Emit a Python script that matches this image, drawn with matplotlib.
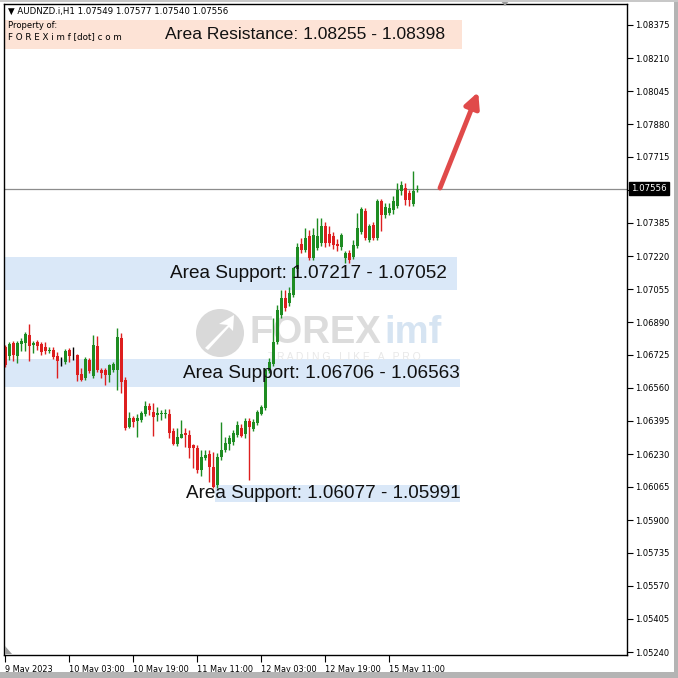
import matplotlib
matplotlib.use('Agg')
import matplotlib.pyplot as plt
from matplotlib.patches import Rectangle, Polygon, Circle
import numpy as np

# ---------------- data (AUDNZD.i, H1) ----------------
opens = [1.06765, 1.06720, 1.06785, 1.06720, 1.06780, 1.06785, 1.06825, 1.06775, 1.06790, 1.06780,
         1.06765, 1.06745, 1.06750, 1.06720, 1.06695, 1.06690, 1.06750, 1.06730, 1.06725, 1.06630,
         1.06610, 1.06700, 1.06620, 1.06770, 1.06650, 1.06650, 1.06625, 1.06650, 1.06650, 1.06810,
         1.06600, 1.06365, 1.06410, 1.06395, 1.06400, 1.06430, 1.06470, 1.06440, 1.06425, 1.06430,
         1.06430, 1.06430, 1.06345, 1.06280, 1.06310, 1.06335, 1.06325, 1.06275, 1.06260, 1.06150,
         1.06210, 1.06230, 1.06165, 1.06075, 1.06215, 1.06250, 1.06280, 1.06290, 1.06325, 1.06360,
         1.06330, 1.06395, 1.06355, 1.06385, 1.06430, 1.06460, 1.06645, 1.06680, 1.06790, 1.06925,
         1.07010, 1.06985, 1.07025, 1.07155, 1.07280, 1.07250, 1.07320, 1.07210, 1.07260, 1.07285,
         1.07370, 1.07330, 1.07320, 1.07280, 1.07265, 1.07210, 1.07235, 1.07215, 1.07270, 1.07340,
         1.07445, 1.07300, 1.07375, 1.07310, 1.07495, 1.07425, 1.07435, 1.07450, 1.07470, 1.07545,
         1.07560, 1.07535, 1.07480, 1.07549]
highs = [1.06775, 1.06790, 1.06795, 1.06795, 1.06810, 1.06840, 1.06880, 1.06795, 1.06800, 1.06790,
         1.06790, 1.06765, 1.06765, 1.06740, 1.06715, 1.06755, 1.06760, 1.06765, 1.06730, 1.06660,
         1.06715, 1.06710, 1.06825, 1.06820, 1.06660, 1.06660, 1.06680, 1.06690, 1.06860, 1.06835,
         1.06615, 1.06440, 1.06420, 1.06430, 1.06445, 1.06495, 1.06485, 1.06485, 1.06465, 1.06450,
         1.06455, 1.06455, 1.06360, 1.06360, 1.06400, 1.06360, 1.06350, 1.06280, 1.06275, 1.06250,
         1.06250, 1.06250, 1.06240, 1.06235, 1.06390, 1.06315, 1.06325, 1.06350, 1.06395, 1.06380,
         1.06410, 1.06410, 1.06405, 1.06450, 1.06475, 1.06660, 1.06710, 1.06910, 1.06975, 1.07050,
         1.07050, 1.07065, 1.07165, 1.07285, 1.07310, 1.07360, 1.07350, 1.07360, 1.07410, 1.07410,
         1.07390, 1.07370, 1.07340, 1.07305, 1.07335, 1.07245, 1.07250, 1.07300, 1.07435, 1.07465,
         1.07460, 1.07380, 1.07390, 1.07505, 1.07505, 1.07485, 1.07485, 1.07520, 1.07585, 1.07595,
         1.07585, 1.07550, 1.07645, 1.07577]
lows = [1.06665, 1.06700, 1.06695, 1.06685, 1.06745, 1.06745, 1.06695, 1.06735, 1.06750, 1.06725,
        1.06730, 1.06735, 1.06705, 1.06610, 1.06670, 1.06680, 1.06690, 1.06700, 1.06595, 1.06595,
        1.06600, 1.06635, 1.06610, 1.06640, 1.06610, 1.06575, 1.06590, 1.06640, 1.06550, 1.06535,
        1.06350, 1.06360, 1.06365, 1.06315, 1.06390, 1.06420, 1.06425, 1.06320, 1.06395, 1.06400,
        1.06410, 1.06310, 1.06275, 1.06270, 1.06310, 1.06265, 1.06210, 1.06160, 1.06135, 1.06120,
        1.06200, 1.06090, 1.06060, 1.06060, 1.06200, 1.06240, 1.06250, 1.06275, 1.06315, 1.06315,
        1.06310, 1.06100, 1.06345, 1.06375, 1.06425, 1.06450, 1.06635, 1.06670, 1.06780, 1.06910,
        1.06945, 1.06970, 1.07015, 1.07140, 1.07235, 1.07240, 1.07200, 1.07200, 1.07250, 1.07270,
        1.07265, 1.07270, 1.07255, 1.07245, 1.07250, 1.07185, 1.07185, 1.07205, 1.07260, 1.07330,
        1.07300, 1.07290, 1.07300, 1.07300, 1.07345, 1.07410, 1.07425, 1.07430, 1.07460, 1.07525,
        1.07475, 1.07470, 1.07470, 1.07540]
closes = [1.06675, 1.06780, 1.06725, 1.06785, 1.06795, 1.06830, 1.06770, 1.06785, 1.06770, 1.06740,
          1.06745, 1.06750, 1.06715, 1.06695, 1.06695, 1.06745, 1.06720, 1.06730, 1.06625, 1.06600,
          1.06705, 1.06645, 1.06775, 1.06650, 1.06635, 1.06625, 1.06675, 1.06680, 1.06815, 1.06590,
          1.06360, 1.06410, 1.06390, 1.06410, 1.06435, 1.06470, 1.06450, 1.06415, 1.06435, 1.06435,
          1.06435, 1.06335, 1.06280, 1.06315, 1.06330, 1.06325, 1.06260, 1.06260, 1.06150, 1.06215,
          1.06225, 1.06165, 1.06065, 1.06215, 1.06250, 1.06285, 1.06310, 1.06335, 1.06375, 1.06320,
          1.06395, 1.06365, 1.06390, 1.06440, 1.06465, 1.06650, 1.06690, 1.06790, 1.06950, 1.07010,
          1.06960, 1.07035, 1.07160, 1.07265, 1.07250, 1.07310, 1.07210, 1.07325, 1.07320, 1.07370,
          1.07285, 1.07285, 1.07275, 1.07270, 1.07325, 1.07235, 1.07200, 1.07275, 1.07360, 1.07455,
          1.07310, 1.07370, 1.07310, 1.07495, 1.07425, 1.07465, 1.07460, 1.07495, 1.07550, 1.07575,
          1.07500, 1.07500, 1.07545, 1.07556]

x_tick_pos = [0, 16, 32, 48, 64, 80, 96]
x_tick_labels = ['9 May 2023', '10 May 03:00', '10 May 19:00', '11 May 11:00',
                 '12 May 03:00', '12 May 19:00', '15 May 11:00']
y_ticks = [1.08375, 1.08210, 1.08045, 1.07880, 1.07715, 1.07550, 1.07385, 1.07220, 1.07055,
           1.06890, 1.06725, 1.06560, 1.06395, 1.06230, 1.06065, 1.05900, 1.05735, 1.05570,
           1.05405, 1.05240]
y_tick_labels = ['1.08375', '1.08210', '1.08045', '1.07880', '1.07715', '', '1.07385', '1.07220',
                 '1.07055', '1.06890', '1.06725', '1.06560', '1.06395', '1.06230', '1.06065',
                 '1.05900', '1.05735', '1.05570', '1.05405', '1.05240']
current_price = 1.07556
header = '\u25BC AUDNZD.i,H1 1.07549 1.07577 1.07540 1.07556'

zone_tops = [1.08398, 1.07217, 1.06706, 1.06077]
zone_bottoms = [1.08255, 1.07052, 1.06563, 1.05991]
zone_labels = ['Area Resistance: 1.08255 - 1.08398', 'Area Support: 1.07217 - 1.07052',
               'Area Support: 1.06706 - 1.06563', 'Area Support: 1.06077 - 1.05991']
zone_start = [-0.25, -0.25, -0.25, 52.5]
zone_end = [114.25, 113.0, 113.75, 113.75]
zone_text_x = [40.0, 41.25, 44.5, 45.25]
zone_text_size = [12.6, 13.7, 13.7, 13.6]
zone_colors = ['#fde3d6', '#dae8f8', '#dae8f8', '#dae8f8']

arrow_start = (108.75, 1.0756)
arrow_end = (118.3, 1.0804)

# ---------------- figure ----------------
W = 678
fig = plt.figure(figsize=(6.78, 6.78), dpi=100)
fig.patch.set_facecolor('white')

def fx(px):
    return px / W

def fy(py):
    return 1 - py / W

ax = fig.add_axes([fx(4), fy(655), fx(627) - fx(4), fy(4) - fy(655)])
ax.set_facecolor('white')
ax.set_xlim(-0.25, 155.5)
ax.set_ylim(1.05225, 1.0848)

# zones
for top, bot, x0, x1, c in zip(zone_tops, zone_bottoms, zone_start, zone_end, zone_colors):
    ax.add_patch(Rectangle((x0, bot), x1 - x0, top - bot, facecolor=c, edgecolor='none', zorder=0.5))

# watermark
wm_cx, wm_cy = fx(220), fy(333)
circ = Circle((wm_cx, wm_cy), 24 / W, transform=fig.transFigure, facecolor='#d9d9d9',
              edgecolor='none', zorder=0.8)
ax.add_artist(circ)
circ.set_clip_on(False)
arrow_wm = Polygon([(fx(205), fy(348)), (fx(228), fy(325)), (fx(219), fy(324)), (fx(234), fy(315)),
                    (fx(233), fy(331)), (fx(229), fy(327)), (fx(208), fy(350))],
                   closed=True, transform=fig.transFigure, facecolor='white', edgecolor='none',
                   zorder=0.85)
ax.add_artist(arrow_wm)
ax.text(fx(249), fy(333), 'FOREX', transform=fig.transFigure, fontsize=27.5, fontweight='bold',
        family='Liberation Sans', color='#dcdcdc', ha='left', va='center', zorder=0.8)
ax.text(fx(384), fy(333), 'imf', transform=fig.transFigure, fontsize=27.5, fontweight='bold',
        family='Liberation Sans', color='#d6e4f2', ha='left', va='center', zorder=0.8)
ax.text(fx(344), fy(357), 'T R A D I N G   L I K E   A   P R O', transform=fig.transFigure,
        fontsize=7.5, family='Liberation Sans', color='#e8e8e8', ha='center', va='center',
        zorder=0.8)

# current price line
ax.axhline(current_price, color='#8c8c8c', lw=0.9, zorder=1)

# candles
idx = np.arange(len(opens))
o = np.array(opens)
c = np.array(closes)
cols = np.where(c > o, '#1e8c22', np.where(c < o, '#dd1f1f', '#000000'))
ax.vlines(idx, lows, highs, colors=cols, lw=1.0, zorder=2)
body_h = np.maximum(np.abs(c - o), 0.000025)
ax.bar(idx, body_h, bottom=np.minimum(o, c), width=0.75, color=cols, linewidth=0, zorder=2.1)

# zone labels
for top, bot, lab, tx, fs in zip(zone_tops, zone_bottoms, zone_labels, zone_text_x, zone_text_size):
    ax.text(tx, (top + bot) / 2, lab, ha='left', va='center', fontsize=fs,
            family='Liberation Sans', color='#111111', zorder=3)

# red arrow
ax.annotate('', xy=arrow_end, xytext=arrow_start,
            arrowprops=dict(arrowstyle='-|>,head_length=0.9,head_width=0.45', color='#e04a4a',
                            lw=3.5, shrinkA=0, shrinkB=0), zorder=4)

# axes styling
for s in ax.spines.values():
    s.set_color('#000000')
    s.set_linewidth(1.0)
ax.yaxis.tick_right()
ax.set_yticks(y_ticks)
ax.set_yticklabels(y_tick_labels)
ax.tick_params(axis='y', direction='out', length=4, width=0.8, pad=2, labelsize=6.0,
               colors='#000000', left=False)
for t in ax.get_yticklabels():
    t.set_family('DejaVu Sans')
ax.set_xticks(x_tick_pos)
ax.set_xticklabels(x_tick_labels, ha='left')
ax.tick_params(axis='x', direction='out', length=5, width=0.8, pad=2, labelsize=5.9,
               colors='#000000')
for t in ax.get_xticklabels():
    t.set_family('DejaVu Sans')

# current price label on axis
ax.annotate(f'{current_price:.5f}', xy=(1.0, current_price), xycoords=('axes fraction', 'data'),
            xytext=(3, 0), textcoords='offset points', ha='left', va='center', fontsize=6.2,
            family='DejaVu Sans', color='white',
            bbox=dict(boxstyle='square,pad=0.25', facecolor='black', edgecolor='black'),
            annotation_clip=False)

# header texts
fig.text(fx(8), fy(11), header, fontsize=6.2, family='DejaVu Sans', color='#000000',
         ha='left', va='center')
fig.text(fx(8), fy(25), 'Property of:', fontsize=6, family='DejaVu Sans', color='#000000',
         ha='left', va='center', zorder=5)
fig.text(fx(8), fy(37), 'F O R E X i m f [dot] c o m', fontsize=6.3, family='DejaVu Sans',
         color='#000000', ha='left', va='center', zorder=5)

# chart-shift markers
fig.patches.append(Polygon([(fx(500), fy(0)), (fx(510), fy(0)), (fx(505), fy(6))], closed=True,
                           transform=fig.transFigure, facecolor='#9a9a9a', edgecolor='none'))
fig.patches.append(Polygon([(fx(5), fy(646)), (fx(5), fy(654)), (fx(12), fy(654))], closed=True,
                           transform=fig.transFigure, facecolor='#9a9a9a', edgecolor='none'))

# screenshot frame
fig.patches.append(Rectangle((0, 0), fx(678), fy(672), transform=fig.transFigure,
                             facecolor='#b4b4b4', edgecolor='none'))
fig.patches.append(Rectangle((fx(674), 0), fx(4), 1, transform=fig.transFigure,
                             facecolor='#b4b4b4', edgecolor='none'))
fig.patches.append(Rectangle((0, fy(2)), 1, fx(2), transform=fig.transFigure,
                             facecolor='#c8c8c8', edgecolor='none'))

fig.savefig('out.png', dpi=100, facecolor='white')
